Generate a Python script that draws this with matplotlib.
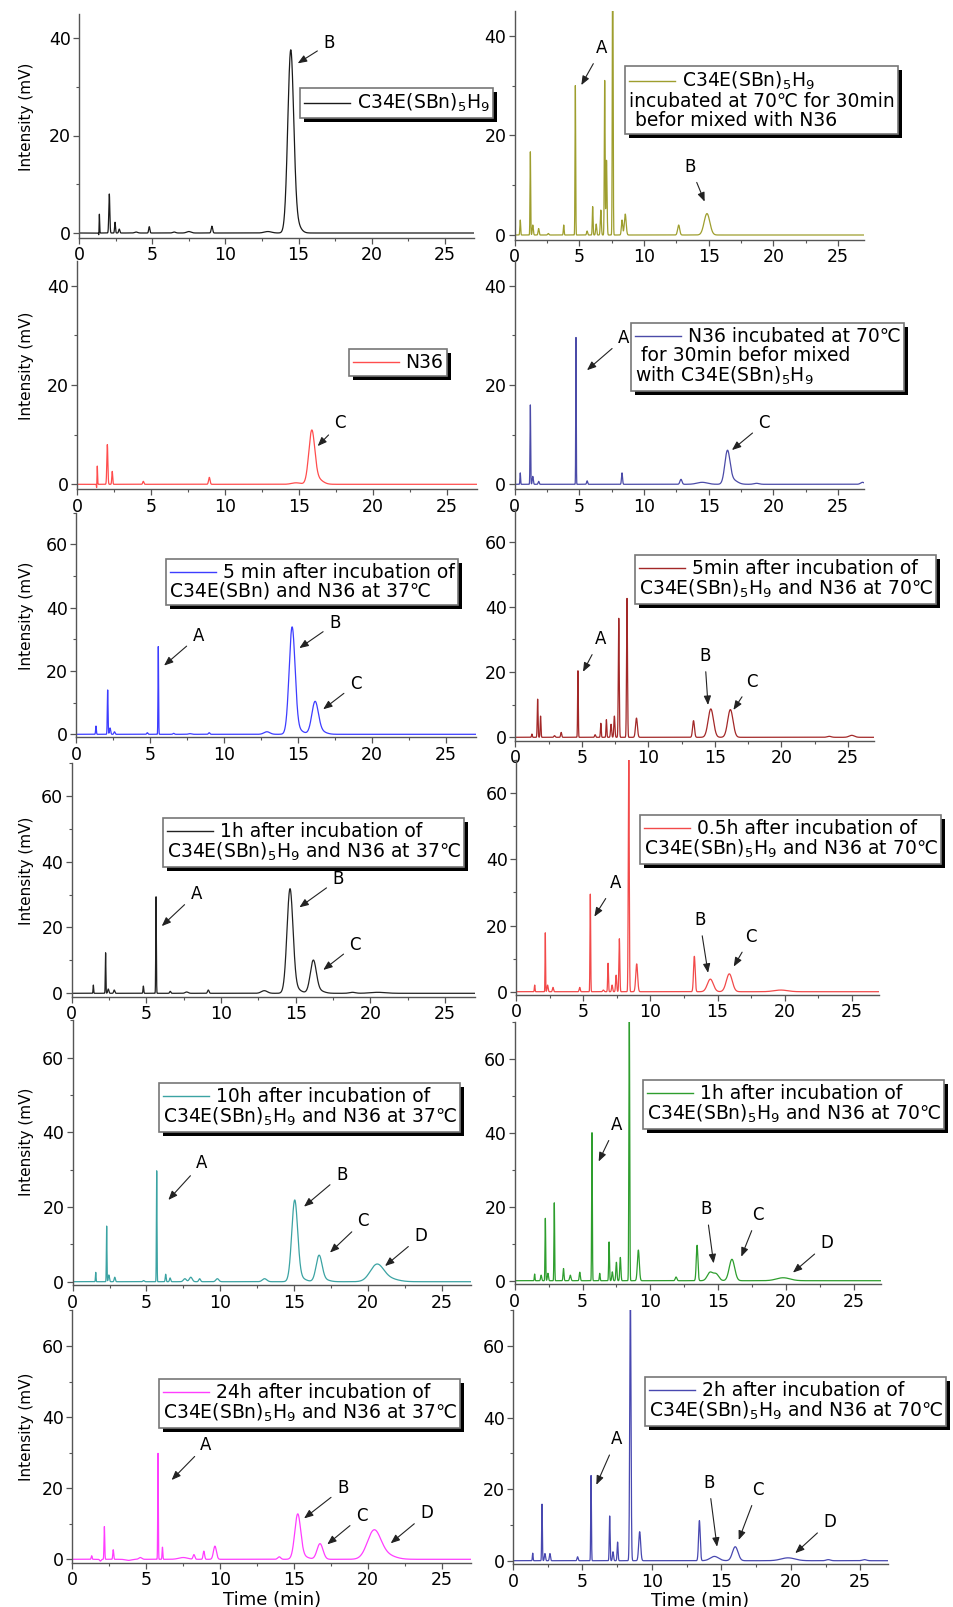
import matplotlib
matplotlib.use("Agg")
import matplotlib.pyplot as plt
from matplotlib.lines import Line2D
from matplotlib.offsetbox import AnchoredOffsetbox, TextArea, DrawingArea, HPacker, VPacker
from matplotlib import patheffects
from matplotlib.ticker import MultipleLocator
import numpy as np

plt.rcParams['font.family'] = ['DejaVu Sans', 'Noto Sans CJK SC']
plt.rcParams['mathtext.default'] = 'regular'

W, H = 954, 1607

# peak tables: (retention time min, height mV, width min)
p1 = [(1.36, -1.1, 0.015), (1.39, 4.0, 0.02), (2.07, 8.0, 0.035), (2.46, 2.2, 0.03),
      (2.75, 0.8, 0.04), (3.9, 0.2, 0.1), (4.8, 1.3, 0.04), (6.5, 0.2, 0.1), (7.5, 0.3, 0.15),
      (9.08, 1.4, 0.05), (12.9, 0.3, 0.25), (14.46, 36.0, 0.2), (14.75, 2.5, 0.3)]
p2 = [(0.43, 3.0, 0.03), (1.21, 16.7, 0.025), (1.4, 2.0, 0.04), (1.85, 1.3, 0.04),
      (2.6, 0.3, 0.05), (3.79, 2.0, 0.03), (4.69, 30.0, 0.025), (5.6, 0.8, 0.04),
      (6.03, 5.7, 0.03), (6.3, 2.2, 0.04), (6.66, 5.0, 0.04), (6.96, 31.0, 0.03),
      (7.1, 15.0, 0.04), (7.58, 60.0, 0.03), (8.3, 3.0, 0.05), (8.55, 4.2, 0.07),
      (12.68, 2.0, 0.08), (14.87, 4.3, 0.22)]
p3 = [(1.33, -1.0, 0.015), (1.37, 3.7, 0.02), (2.05, 8.0, 0.035), (2.38, 2.6, 0.03),
      (4.48, 0.6, 0.04), (8.94, 1.4, 0.05), (14.8, 0.3, 0.3), (15.86, 10.2, 0.2),
      (16.2, 1.2, 0.35)]
p4 = [(0.43, 2.3, 0.025), (1.21, 16.0, 0.025), (1.4, 1.6, 0.04), (1.85, 0.6, 0.04),
      (4.74, 29.6, 0.02), (5.6, 0.7, 0.04), (8.3, 2.3, 0.04), (12.86, 1.0, 0.08),
      (14.5, 0.4, 0.4), (16.45, 6.4, 0.2), (16.85, 0.9, 0.35), (18.7, 0.2, 0.2),
      (26.9, 0.4, 0.15)]
p5 = [(1.35, 2.6, 0.025), (2.14, 14.0, 0.025), (2.3, 2.0, 0.04), (2.6, 0.8, 0.04),
      (4.82, 0.5, 0.04), (5.56, 27.7, 0.02), (6.6, 0.3, 0.05), (7.7, 0.2, 0.1),
      (9.0, 0.5, 0.05), (12.9, 0.8, 0.2), (14.6, 33.0, 0.2), (14.95, 1.5, 0.35),
      (16.15, 9.8, 0.22), (16.5, 1.0, 0.35)]
p6 = [(1.25, 1.0, 0.03), (1.68, 11.7, 0.03), (1.9, 6.5, 0.03), (2.95, 0.5, 0.05),
      (3.45, 1.5, 0.04), (4.71, 20.4, 0.025), (6.0, 0.8, 0.04), (6.43, 4.3, 0.03),
      (6.85, 5.4, 0.03), (7.2, 4.0, 0.04), (7.45, 6.5, 0.04), (7.78, 36.5, 0.035),
      (8.4, 42.6, 0.035), (9.11, 5.9, 0.07), (13.4, 5.1, 0.07), (14.7, 8.7, 0.2),
      (16.17, 8.5, 0.2), (23.6, 0.3, 0.15), (25.3, 0.6, 0.2)]
p7 = [(1.45, 2.5, 0.02), (2.27, 12.3, 0.02), (2.45, 1.3, 0.04), (2.85, 1.0, 0.04),
      (4.8, 2.2, 0.025), (5.65, 29.3, 0.02), (6.6, 0.6, 0.04), (7.7, 0.4, 0.1),
      (9.15, 1.0, 0.05), (12.9, 0.8, 0.2), (14.62, 30.8, 0.2), (14.95, 1.5, 0.35),
      (16.18, 9.5, 0.2), (16.5, 0.9, 0.35), (18.8, 0.3, 0.2), (20.5, 0.3, 0.5)]
p8 = [(1.39, 2.0, 0.025), (2.18, 17.8, 0.02), (2.35, 2.0, 0.04), (2.75, 1.3, 0.04),
      (4.74, 1.3, 0.04), (5.53, 29.5, 0.025), (6.5, 0.5, 0.05), (6.85, 8.6, 0.03),
      (7.15, 2.0, 0.04), (7.45, 5.0, 0.04), (7.69, 16.0, 0.035), (8.39, 75.0, 0.035),
      (8.98, 8.4, 0.07), (13.27, 10.7, 0.06), (14.46, 3.8, 0.22), (15.87, 5.4, 0.22),
      (19.7, 0.5, 0.5)]
p9 = [(1.56, 2.5, 0.02), (2.3, 14.9, 0.02), (2.45, 1.8, 0.04), (2.85, 1.2, 0.04),
      (4.8, 0.3, 0.05), (5.69, 29.7, 0.02), (6.3, 2.0, 0.03), (6.6, 1.0, 0.04),
      (7.6, 0.8, 0.1), (8.0, 1.2, 0.1), (8.6, 0.8, 0.06), (9.8, 0.8, 0.1), (13.0, 0.8, 0.15),
      (15.04, 21.3, 0.2), (15.4, 1.0, 0.35), (16.69, 6.7, 0.2), (17.0, 0.6, 0.35),
      (20.6, 4.4, 0.45), (21.4, 0.8, 0.6)]
p10 = [(1.47, 1.8, 0.025), (1.95, 1.5, 0.04), (2.26, 16.9, 0.025), (2.45, 2.0, 0.04),
       (2.92, 21.1, 0.025), (3.6, 3.3, 0.035), (4.1, 1.5, 0.05), (4.8, 2.3, 0.04),
       (5.7, 40.1, 0.025), (6.27, 2.0, 0.03), (6.96, 10.5, 0.03), (7.2, 2.4, 0.04),
       (7.5, 5.0, 0.04), (7.79, 6.3, 0.04), (8.45, 75.0, 0.03), (9.12, 8.3, 0.07),
       (11.9, 1.0, 0.06), (13.45, 9.6, 0.06), (14.4, 2.2, 0.2), (14.85, 1.8, 0.2),
       (16.02, 5.8, 0.2), (19.8, 0.8, 0.5)]
p11 = [(1.31, 1.0, 0.03), (1.9, -0.5, 0.05), (2.17, 9.2, 0.025), (2.77, 2.7, 0.03),
       (3.8, -0.3, 0.2), (4.6, 0.5, 0.1), (5.8, 29.8, 0.02), (6.1, 3.4, 0.025),
       (7.5, 0.5, 0.3), (8.23, 1.3, 0.06), (8.9, 2.3, 0.05), (9.65, 3.7, 0.1),
       (14.0, 0.7, 0.1), (15.25, 12.3, 0.2), (15.6, 0.8, 0.35), (16.76, 4.4, 0.2),
       (20.41, 7.8, 0.45), (21.2, 1.2, 0.6)]
p12 = [(1.42, 2.1, 0.025), (2.09, 15.8, 0.025), (2.3, 2.0, 0.04), (2.66, 2.0, 0.04),
       (4.65, 1.1, 0.04), (5.62, 23.8, 0.025), (6.96, 12.5, 0.03), (7.2, 2.5, 0.04),
       (7.53, 5.2, 0.035), (8.45, 75.0, 0.045), (9.12, 8.1, 0.07), (13.42, 11.2, 0.06),
       (14.5, 1.2, 0.3), (16.0, 3.9, 0.2), (19.8, 0.8, 0.5), (22.7, 0.3, 0.15),
       (25.3, 0.3, 0.15)]
peaks = [p1, p2, p3, p4, p5, p6, p7, p8, p9, p10, p11, p12]

legends = [
    ["C34E(SBn)$_5$H$_9$"],
    ["C34E(SBn)$_5$H$_9$", "incubated at 70\u2103 for 30min", " befor mixed with N36"],
    ["N36"],
    ["N36 incubated at 70\u2103", " for 30min befor mixed", "with C34E(SBn)$_5$H$_9$"],
    ["5 min after incubation of", "C34E(SBn) and N36 at 37\u2103"],
    ["5min after incubation of", "C34E(SBn)$_5$H$_9$ and N36 at 70\u2103"],
    ["1h after incubation of", "C34E(SBn)$_5$H$_9$ and N36 at 37\u2103"],
    ["0.5h after incubation of", "C34E(SBn)$_5$H$_9$ and N36 at 70\u2103"],
    ["10h after incubation of", "C34E(SBn)$_5$H$_9$ and N36 at 37\u2103"],
    ["1h after incubation of", "C34E(SBn)$_5$H$_9$ and N36 at 70\u2103"],
    ["24h after incubation of", "C34E(SBn)$_5$H$_9$ and N36 at 37\u2103"],
    ["2h after incubation of", "C34E(SBn)$_5$H$_9$ and N36 at 70\u2103"],
]
colors = ['#1a1a1a', '#9E9E2E', '#FF4D4D', '#4B4BA8', '#3D3DFF', '#A32828',
          '#222222', '#F24A4A', '#3BA3A3', '#2E9E2E', '#FF3DFF', '#4848B0']

# peak labels: (label, text x, text y, arrow tip x, arrow tip y)
notes = [
    [("B", 17.1, 38.9, 14.94, 34.8)],
    [("A", 6.75, 37.5, 5.15, 30.1), ("B", 13.58, 13.7, 14.69, 6.7)],
    [("C", 17.77, 12.3, 16.26, 7.7)],
    [("A", 8.43, 29.4, 5.59, 23.0), ("C", 19.3, 12.3, 16.8, 6.9)],
    [("A", 8.26, 31.0, 5.95, 21.7), ("B", 17.5, 35.0, 15.09, 27.2), ("C", 18.9, 15.8, 16.7, 7.9)],
    [("A", 6.39, 30.1, 5.09, 20.1), ("B", 14.24, 25.0, 14.49, 9.9), ("C", 17.8, 17.1, 16.4, 8.4)],
    [("A", 8.33, 30.2, 6.03, 20.4), ("B", 17.86, 34.6, 15.25, 26.1), ("C", 19.0, 14.7, 16.85, 7.1)],
    [("A", 7.39, 32.8, 5.83, 22.7), ("B", 13.67, 21.7, 14.29, 5.7), ("C", 17.49, 16.6, 16.2, 7.6)],
    [("A", 8.74, 31.7, 6.48, 21.9), ("B", 18.22, 28.6, 15.67, 20.1),
     ("C", 19.69, 16.3, 17.43, 7.8), ("D", 23.58, 12.2, 21.16, 4.2)],
    [("A", 7.49, 42.2, 6.19, 32.3), ("B", 14.13, 19.4, 14.67, 4.7),
     ("C", 17.94, 17.8, 16.71, 6.5), ("D", 23.03, 10.1, 20.52, 2.2)],
    [("A", 9.05, 32.2, 6.72, 22.3), ("B", 18.3, 20.0, 15.68, 11.5),
     ("C", 19.58, 12.2, 17.25, 4.2), ("D", 23.98, 12.9, 21.54, 4.5)],
    [("A", 7.44, 33.9, 6.0, 21.2), ("B", 14.09, 21.8, 14.69, 3.9),
     ("C", 17.62, 19.8, 16.25, 5.8), ("D", 22.8, 10.9, 20.32, 2.1)],
]

# panel geometry in pixels: x of t=0, px per min, y of 0 mV, px per mV, y max
geom = [(79, 14.64, 233, 4.875, 45), (514.7, 12.93, 235, 4.98, 45),
        (77, 14.8, 484.3, 4.96, 45), (514.7, 12.93, 484.3, 4.96, 45),
        (76, 14.8, 734.3, 3.167, 70), (515.3, 13.3, 737.3, 3.26, 70),
        (71.7, 14.93, 993.3, 3.293, 70), (516, 13.44, 991.7, 3.307, 70),
        (72.7, 14.76, 1281.7, 3.733, 70), (514.7, 13.56, 1280.7, 3.69, 70),
        (72.3, 14.78, 1559.3, 3.555, 70), (513, 13.89, 1560.7, 3.578, 70)]
# legend box upper-left corner in pixels
leg_pos = [(300, 88), (625, 66), (349, 349), (631, 323), (166, 559), (635, 555),
           (163, 818), (640, 815), (159, 1083), (643, 1080), (159, 1379), (645, 1377)]

t = np.arange(0, 27.0001, 0.005)


def trace(pk):
    y = np.zeros_like(t)
    for rt, h, w in pk:
        y += h * np.exp(-0.5 * ((t - rt) / w) ** 2)
    return y


fig = plt.figure(figsize=(W / 100, H / 100), dpi=100)


def add_legend(lines, color, left, top):
    fs = 13.5
    da = DrawingArea(33, 10, 0, 0)
    da.add_artist(Line2D([0, 33], [5, 5], color=color, lw=1))
    tp = dict(fontsize=fs, color='black')
    row1 = HPacker(children=[da, TextArea(lines[0], textprops=tp)], align='center', pad=0, sep=5)
    rows = [row1] + [TextArea(s, textprops=tp) for s in lines[1:]]
    box = VPacker(children=rows, align='left', pad=0, sep=0)
    ab = AnchoredOffsetbox(loc='upper left', child=box, pad=0.2, borderpad=0, frameon=True,
                           bbox_to_anchor=(left / W, 1 - top / H),
                           bbox_transform=fig.transFigure, prop=dict(size=fs))
    ab.patch.set_boxstyle('square', pad=0)
    ab.patch.set_edgecolor('#777777')
    ab.patch.set_linewidth(1.2)
    ab.patch.set_path_effects([patheffects.SimplePatchShadow(offset=(3, -3), shadow_rgbFace='black', alpha=1),
                               patheffects.Normal()])
    fig.add_artist(ab)


for i in range(12):
    x0, sx, y0, sy, ymax = geom[i]
    ymin = -1
    left, right = x0, x0 + 27 * sx
    top, bottom = y0 - ymax * sy, y0 - ymin * sy
    ax = fig.add_axes([left / W, 1 - bottom / H, (right - left) / W, (bottom - top) / H])
    ax.patch.set_alpha(0)
    ax.plot(t, trace(peaks[i]), color=colors[i], lw=0.9)
    ax.set_xlim(0, 27)
    ax.set_ylim(ymin, ymax)
    for s in ['top', 'right']:
        ax.spines[s].set_visible(False)
    for s in ['left', 'bottom']:
        ax.spines[s].set_color('#555555')
        ax.spines[s].set_linewidth(1.0)
    ax.xaxis.set_major_locator(MultipleLocator(5))
    ax.xaxis.set_minor_locator(MultipleLocator(2.5))
    ax.yaxis.set_major_locator(MultipleLocator(20))
    ax.yaxis.set_minor_locator(MultipleLocator(10))
    ax.tick_params(which='major', direction='out', length=4, width=0.9, color='#555555',
                   labelsize=12.5, pad=2)
    ax.tick_params(which='minor', direction='out', length=2.2, width=0.8, color='#555555')
    if i % 2 == 0:
        ax.set_ylabel("Intensity (mV)", fontsize=11)
        ax.yaxis.set_label_coords((34 - left) / (right - left), 0.54)
    if i >= 10:
        ax.set_xlabel("Time (min)", fontsize=13, labelpad=1)
    for lab, tx, ty, px, py in notes[i]:
        ax.annotate(lab, xy=(px, py), xytext=(tx, ty), fontsize=12, ha='center', va='center',
                    arrowprops=dict(arrowstyle='-|>,head_length=0.45,head_width=0.18',
                                    color='#222222', lw=0.8, shrinkA=3, shrinkB=0))
    add_legend(legends[i], colors[i], *leg_pos[i])

fig.savefig("out.png", dpi=100)
